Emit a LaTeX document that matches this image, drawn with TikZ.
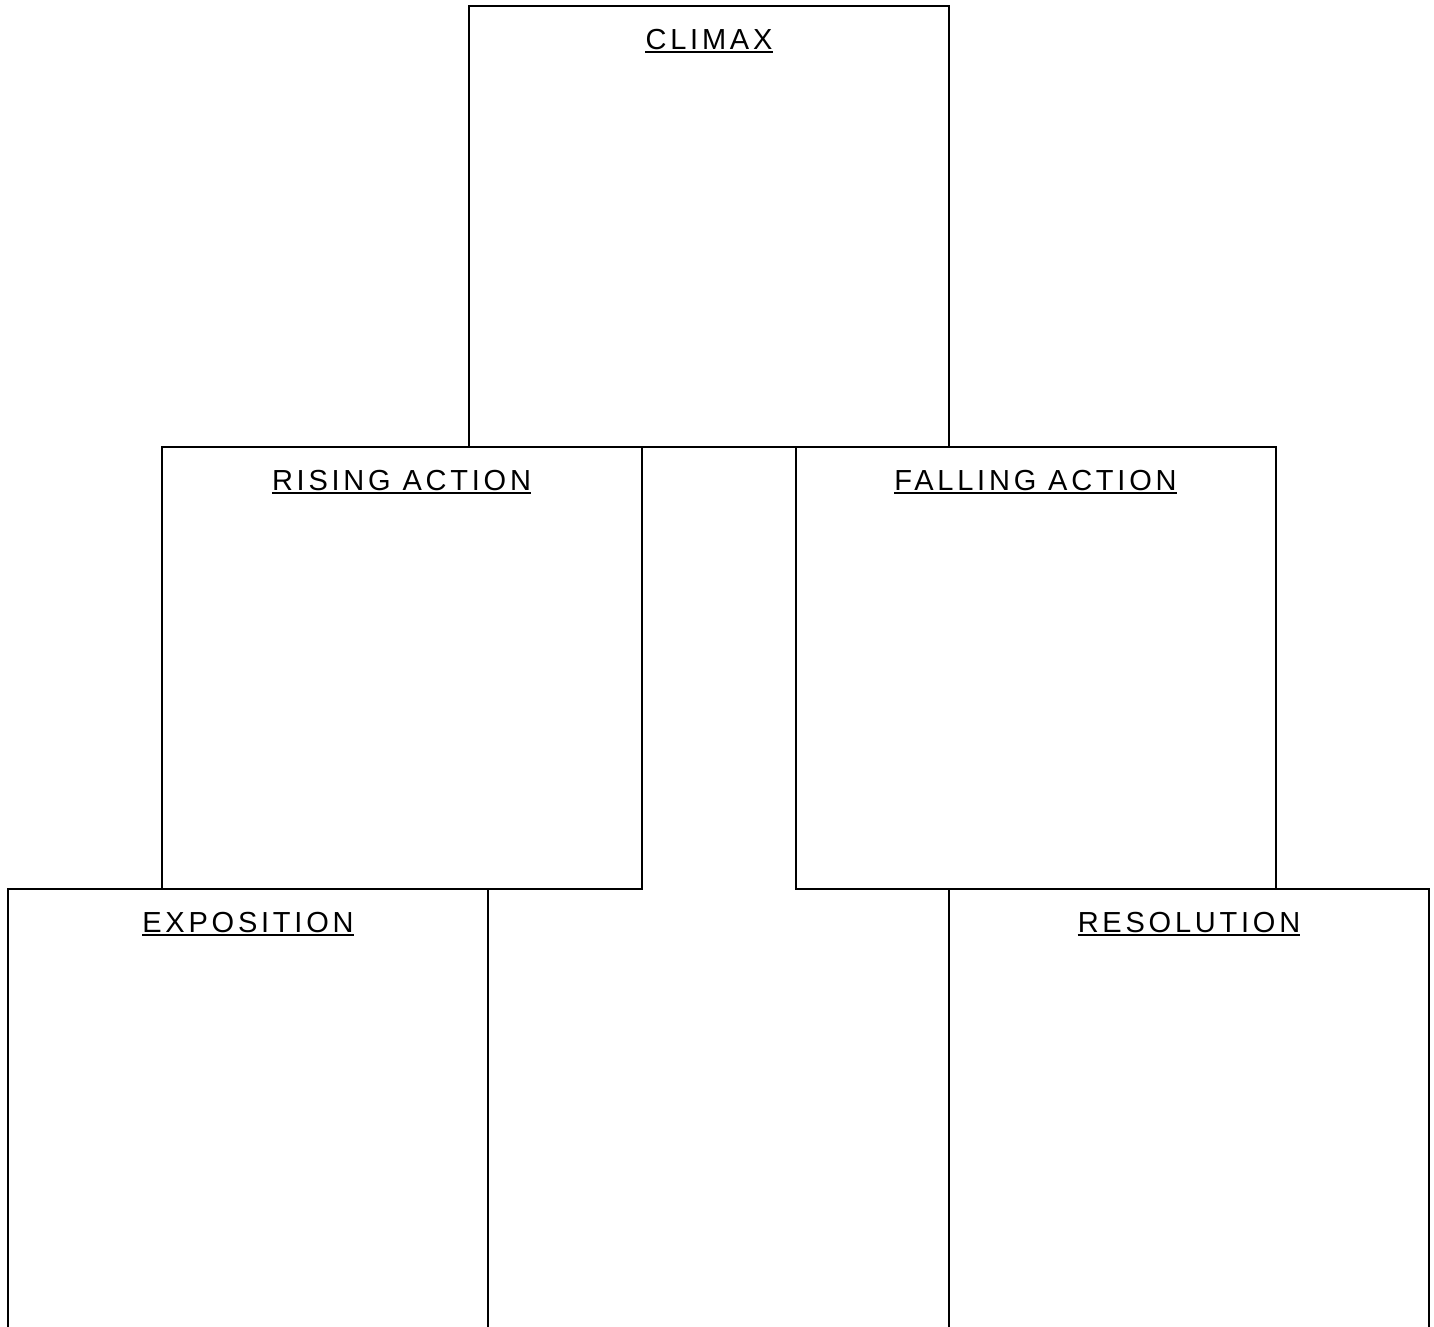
\documentclass[tikz,border=0pt]{standalone}
\usepackage{fontspec}
\setmainfont{Liberation Sans}[LetterSpace=13]
\begin{document}
\begin{tikzpicture}[x=1pt,y=-1pt,
  panel/.style={draw=black,line width=2pt,rectangle,inner sep=0pt,minimum width=480pt,anchor=north west},
  ttl/.style={font=\fontsize{29}{32}\selectfont,inner sep=0pt,anchor=base}]
\useasboundingbox (0,0) rectangle (1434,1326);
\clip (0,0) rectangle (1434,1326);
\node[panel,minimum height=441pt] (climax) at (468,5) {};
\node[panel,minimum height=442pt] (rising) at (160.5,446) {};
\node[panel,minimum height=442pt] (falling) at (794.5,446) {};
\node[panel,minimum height=480pt] (expo) at (7,888) {};
\node[panel,minimum height=480pt] (resol) at (948,888) {};
\foreach \b/\t in {climax/CLIMAX,rising/RISING ACTION,falling/FALLING ACTION,expo/EXPOSITION,resol/RESOLUTION}{
  \node[ttl] (\b-t) at ([yshift=-44pt]\b.north) {\t};
  \draw[line width=2pt] ([yshift=-3pt]\b-t.base west) -- ([yshift=-3pt]\b-t.base east);
}
\end{tikzpicture}
\end{document}
